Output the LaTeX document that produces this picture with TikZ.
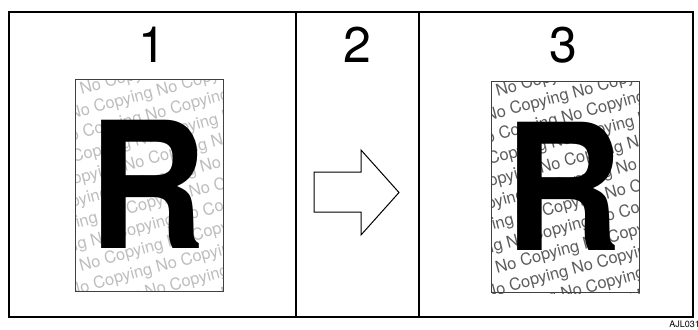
\documentclass[tikz,border=0pt]{standalone}
\usepackage{fontspec}
\setmainfont{TeX Gyre Heros}
\definecolor{lightmark}{gray}{0.74}
\definecolor{darkmark}{gray}{0.36}

% rows of "No Copying" inside a sheet: #1,#2 = top left corner, #3 = colour
\newcommand{\nocopyfill}[3]{%
  \begin{scope}
    \clip (#1,#2) rectangle ++(148,212);
    \foreach \k in {0,...,13}
      \node[wmark,text=#3] (w\k) at ({#1-70-\k*11},{#2+14+\k*25})
        {No Copying No Copying No Copying No Copying No Copying};
  \end{scope}}

\begin{document}
\begin{tikzpicture}[x=1pt,y=-1pt]
\tikzset{
  panelnum/.style={font=\fontsize{50}{50}\selectfont,anchor=base,inner sep=0pt},
  bigletter/.style={font=\fontsize{176}{176}\selectfont\bfseries,anchor=base,inner sep=0pt,xscale=0.93},
  sheet/.style={draw=black!75,line width=1pt},
  wmark/.style={font=\fontsize{16.5}{16.5}\selectfont,anchor=base west,inner sep=0pt,rotate=15},
}
\useasboundingbox (0,0) rectangle (698,329);

% frame and panels
\draw[line width=1.2pt] (9,12) rectangle (693,317);
\draw[line width=1.2pt] (296,12) -- (296,317);
\draw[line width=1.2pt] (419,12) -- (419,317);
\node[panelnum] (n1) at (152,63) {1};
\node[panelnum] (n2) at (357.5,63) {2};
\node[panelnum] (n3) at (563,63) {3};

% original sheet
\nocopyfill{75}{79}{lightmark}
\node[bigletter] (r1) at (148,248) {R};
\draw[sheet] (75,79) rectangle (223,291);

% arrow
\draw[line width=1pt,fill=white]
  (314,172) -- (361,172) -- (361,150) -- (399,192.5) -- (361,235)
  -- (361,212) -- (314,212) -- cycle;

% copy
\nocopyfill{491}{81}{darkmark}
\node[bigletter] (r3) at (564,250) {R};
\draw[sheet] (491,81) rectangle (639,292);

\node[font=\fontsize{9}{9}\selectfont,anchor=base east,inner sep=0pt] (code) at (700,327) {AJL031};
\end{tikzpicture}
\end{document}
